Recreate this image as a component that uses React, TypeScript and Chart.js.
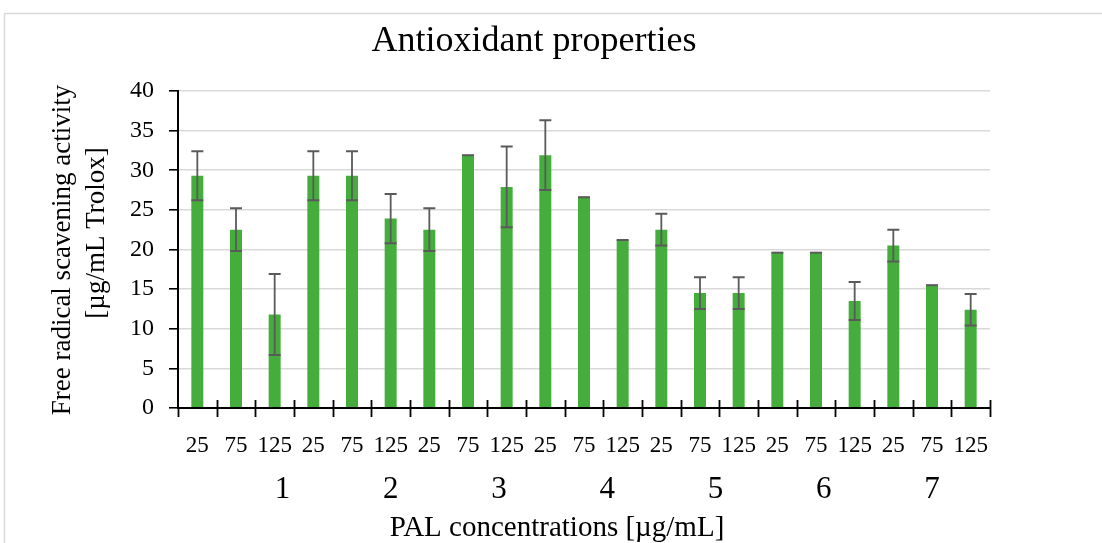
import React, { useEffect, useRef } from 'react';
import { Chart, registerables } from 'chart.js';

Chart.register(...registerables);

const concentrationLabels = [
  '25', '75', '125', '25', '75', '125', '25', '75', '125', '25', '75', '125',
  '25', '75', '125', '25', '75', '125', '25', '75', '125',
];
const compoundLabels = ['1', '2', '3', '4', '5', '6', '7'];
const activityValues = [
  29.3, 22.5, 11.8, 29.3, 29.3, 23.9, 22.5, 31.9, 27.9, 31.9, 26.6, 21.2,
  22.5, 14.5, 14.5, 19.6, 19.6, 13.5, 20.5, 15.5, 12.4,
];
const activityErrors = [
  3.1, 2.7, 5.1, 3.1, 3.1, 3.1, 2.7, 0, 5.1, 4.4, 0, 0,
  2.0, 2.0, 2.0, 0, 0, 2.4, 2.0, 0, 2.0,
];
const chartTitle = 'Antioxidant properties';
const yTitleLines = ['Free radical scavening activity', '[µg/mL Trolox]'];
const xTitle = 'PAL concentrations [µg/mL]';

const FONT = "'Liberation Serif', 'Times New Roman', serif";

const decorPlugin = {
  id: 'decor',
  beforeDraw(chart: any) {
    const { ctx, width, height } = chart;
    ctx.save();
    ctx.fillStyle = '#ffffff';
    ctx.fillRect(0, 0, width, height);
    ctx.strokeStyle = '#d9d9d9';
    ctx.lineWidth = 1.5;
    ctx.beginPath();
    ctx.moveTo(4.5, height + 5);
    ctx.lineTo(4.5, 13.5);
    ctx.lineTo(width + 5, 13.5);
    ctx.stroke();
    ctx.restore();
  },
  afterDatasetsDraw(chart: any) {
    const { ctx } = chart;
    const yScale = chart.scales.y;
    const meta = chart.getDatasetMeta(0);
    ctx.save();
    ctx.strokeStyle = '#5a5a5a';
    meta.data.forEach((bar: any, i: number) => {
      const v = activityValues[i];
      const e = activityErrors[i];
      const x = bar.x;
      const yTop = yScale.getPixelForValue(v + e);
      const yBot = yScale.getPixelForValue(v - e);
      const half = 6;
      ctx.lineWidth = 1.8;
      if (e > 0) {
        ctx.beginPath();
        ctx.moveTo(x, yTop);
        ctx.lineTo(x, yBot);
        ctx.stroke();
      }
      ctx.lineWidth = 2;
      ctx.beginPath();
      ctx.moveTo(x - half, yTop);
      ctx.lineTo(x + half, yTop);
      if (e > 0) {
        ctx.moveTo(x - half, yBot);
        ctx.lineTo(x + half, yBot);
      }
      ctx.stroke();
    });
    ctx.restore();
  },
  afterDraw(chart: any) {
    const { ctx, chartArea } = chart;
    const xScale = chart.scales.x;
    ctx.save();
    // x category boundary tick marks crossing the axis
    ctx.strokeStyle = '#000';
    ctx.lineWidth = 1.8;
    ctx.beginPath();
    for (let i = 0; i <= concentrationLabels.length; i++) {
      const x = Math.round(xScale.getPixelForValue(i - 0.5)) + 0.5;
      ctx.moveTo(x, chartArea.bottom - (i === 0 ? 0 : 8));
      ctx.lineTo(x, chartArea.bottom + 9);
    }
    ctx.stroke();

    ctx.fillStyle = '#000';
    ctx.textAlign = 'center';
    ctx.textBaseline = 'middle';

    // title
    ctx.font = `36px ${FONT}`;
    ctx.fillText(chartTitle, 534, 42);

    // compound group labels
    ctx.font = `31px ${FONT}`;
    compoundLabels.forEach((lab, k) => {
      const x = xScale.getPixelForValue(2.2 + 2.8 * k);
      ctx.fillText(lab, x, 490);
    });

    // x title
    ctx.font = `29px ${FONT}`;
    ctx.fillText(xTitle, 557, 528);

    // y title
    ctx.font = `27px ${FONT}`;
    ctx.save();
    ctx.translate(63, 250);
    ctx.rotate(-Math.PI / 2);
    ctx.fillText(yTitleLines[0], 0, 0);
    ctx.restore();
    ctx.save();
    ctx.translate(97, 233);
    ctx.rotate(-Math.PI / 2);
    ctx.fillText(yTitleLines[1], 0, 0);
    ctx.restore();

    ctx.restore();
  },
};

export default function App() {
  const canvasRef = useRef<HTMLCanvasElement>(null);

  useEffect(() => {
    const canvas = canvasRef.current;
    if (!canvas) return;
    const chart = new Chart(canvas, {
      type: 'bar',
      data: {
        labels: concentrationLabels,
        datasets: [
          {
            data: activityValues,
            backgroundColor: '#44ad3b',
            borderWidth: 0,
            barPercentage: 0.31,
            categoryPercentage: 1,
          },
        ],
      },
      options: {
        responsive: false,
        animation: false,
        devicePixelRatio: 1,
        layout: { padding: { left: 0, top: 91, right: 112, bottom: 0 } },
        plugins: {
          legend: { display: false },
          tooltip: { enabled: false },
          title: { display: false },
        },
        scales: {
          x: {
            grid: { display: false },
            border: { color: '#000', width: 2, z: 1 },
            ticks: {
              color: '#000',
              font: { family: FONT, size: 23 },
              padding: 16,
              maxRotation: 0,
              autoSkip: false,
            },
            afterFit: (s: any) => {
              s.height = 135;
            },
          },
          y: {
            min: 0,
            max: 40,
            ticks: {
              stepSize: 5,
              color: '#000',
              font: { family: FONT, size: 24 },
              padding: 15,
            },
            grid: {
              color: '#d9d9d9',
              lineWidth: 1.6,
              tickColor: '#000',
              tickLength: 9,
              tickWidth: 1.6,
            },
            border: { color: '#000', width: 2, z: 1 },
            afterFit: (s: any) => {
              s.width = 178;
            },
          },
        },
      },
      plugins: [decorPlugin],
    } as any);
    return () => chart.destroy();
  }, []);

  return (
    <div style={{ position: 'absolute', left: 0, top: 0, width: 1102, height: 543, background: '#fff' }}>
      <canvas ref={canvasRef} width={1102} height={543} style={{ display: 'block' }} />
    </div>
  );
}
